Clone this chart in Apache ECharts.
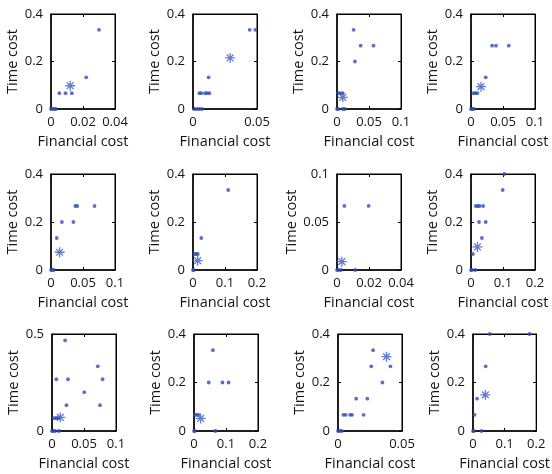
<!DOCTYPE html>
<html>
<head>
<meta charset="utf-8">
<script src="https://cdn.jsdelivr.net/npm/echarts@6/dist/echarts.min.js"></script>
<style>
html,body{margin:0;padding:0;background:#fff;}
#chart{width:552px;height:474px;}
</style>
</head>
<body>
<div id="chart"></div>
<script>
// ---- Data ----
const fin1  = [0, 0.001, 0.002, 0.003, 0.0052, 0.0091, 0.013, 0.022, 0.030];
const time1 = [0, 0, 0, 0, 0.0667, 0.0667, 0.0667, 0.1333, 0.3333];
const fin2  = [0.001, 0.003, 0.005, 0.007, 0.005, 0.0065, 0.0094, 0.011, 0.0128, 0.0122, 0.0443, 0.0487];
const time2 = [0, 0, 0, 0, 0.0667, 0.0667, 0.0667, 0.0667, 0.0667, 0.1333, 0.3333, 0.3333];
const fin3  = [0, 0.002, 0.009, 0.012, 0.002, 0.005, 0.009, 0.028, 0.037, 0.057, 0.026];
const time3 = [0, 0, 0, 0, 0.0667, 0.0667, 0.0667, 0.2, 0.2667, 0.2667, 0.3333];
const fin4  = [0, 0.002, 0.004, 0.004, 0.007, 0.010, 0.023, 0.033, 0.039, 0.059];
const time4 = [0, 0, 0, 0.0667, 0.0667, 0.0667, 0.1333, 0.2667, 0.2667, 0.2667];
const fin5  = [0, 0.002, 0.004, 0.009, 0.017, 0.035, 0.038, 0.041, 0.068];
const time5 = [0, 0, 0, 0.1333, 0.2, 0.2, 0.2667, 0.2667, 0.2667];
const fin6  = [0, 0.002, 0.005, 0.010, 0.015, 0.026, 0.110];
const time6 = [0, 0, 0.0667, 0.0667, 0.0667, 0.1333, 0.3333];
const fin7  = [0, 0.001, 0.0025, 0.0114, 0.0046, 0.0198];
const time7 = [0, 0, 0, 0, 0.0667, 0.0667];
const fin8  = [0, 0.002, 0.013, 0.006, 0.034, 0.025, 0.046, 0.015, 0.021, 0.027, 0.038, 0.099, 0.104];
const time8 = [0, 0, 0, 0.0667, 0.1333, 0.2, 0.2, 0.2667, 0.2667, 0.2667, 0.2667, 0.3333, 0.4];
const fin9  = [0, 0.002, 0.005, 0.011, 0.003, 0.006, 0.008, 0.0105, 0.0226, 0.075, 0.0505, 0.0068, 0.025, 0.079, 0.0716, 0.0205];
const time9 = [0, 0, 0, 0, 0.0667, 0.0667, 0.0667, 0.0667, 0.1333, 0.1333, 0.2, 0.2667, 0.2667, 0.2667, 0.3333, 0.4667];
const fin10  = [0, 0.003, 0.067, 0.003, 0.008, 0.014, 0.046, 0.089, 0.108, 0.059];
const time10 = [0, 0, 0, 0.0667, 0.0667, 0.0667, 0.2, 0.2, 0.2, 0.3333];
const fin11  = [0, 0.0015, 0.003, 0.0042, 0.006, 0.0095, 0.011, 0.020, 0.0142, 0.0229, 0.0347, 0.026, 0.041, 0.0274];
const time11 = [0, 0, 0, 0.0667, 0.0667, 0.0667, 0.0667, 0.0667, 0.1333, 0.1333, 0.2, 0.2667, 0.2667, 0.3333];
const fin12  = [0, 0.003, 0.027, 0.005, 0.013, 0.040, 0.053, 0.179];
const time12 = [0, 0, 0, 0.0667, 0.1333, 0.2667, 0.4, 0.4];

// Star (mean) point of each panel
const starFin  = [0.012, 0.029, 0.009, 0.0156, 0.0135, 0.0146, 0.003, 0.020, 0.013, 0.021, 0.0379, 0.039];
const starTime = [0.098, 0.215, 0.049, 0.094, 0.074, 0.039, 0.0087, 0.096, 0.070, 0.052, 0.3066, 0.149];

// Axis ranges / tick steps
const xMax  = [0.04, 0.05, 0.1, 0.1, 0.1, 0.2, 0.04, 0.2, 0.1, 0.2, 0.05, 0.2];
const xStep = [0.02, 0.05, 0.05, 0.05, 0.05, 0.1, 0.02, 0.1, 0.05, 0.1, 0.05, 0.1];
const yMax  = [0.4, 0.4, 0.4, 0.4, 0.4, 0.4, 0.1, 0.4, 0.5, 0.4, 0.4, 0.4];
const yStep = [0.2, 0.2, 0.2, 0.2, 0.2, 0.2, 0.05, 0.2, 0.5, 0.2, 0.2, 0.2];

const finAll  = [fin1, fin2, fin3, fin4, fin5, fin6, fin7, fin8, fin9, fin10, fin11, fin12];
const timeAll = [time1, time2, time3, time4, time5, time6, time7, time8, time9, time10, time11, time12];

const xLabel = 'Financial cost';
const yLabel = 'Time cost';

// ---- Layout ----
const colLeft = [[51, 193, 337, 471], [51, 193, 337, 471], [52, 194, 338, 473]];
const rowTop = [14, 174, 334];
const rowH = [95, 96, 97];
const cellW = 64;

const FONT = '"Open Sans", "Liberation Sans", sans-serif';
const TXT = '#141414';
const DOT = '#2f4db3';
const STAR = '#3a5cc8';

const grids = [], xAxes = [], yAxes = [], series = [];
for (let i = 0; i < 12; i++) {
  const r = Math.floor(i / 4), c = i % 4;
  grids.push({left: colLeft[r][c], top: rowTop[r], width: cellW, height: rowH[r],
    show: true, borderColor: '#000', borderWidth: 1, containLabel: false});
  const xb = {
    gridIndex: i, type: 'value', min: 0, max: xMax[i], interval: xStep[i],
    splitLine: {show: false},
    axisLine: {show: true, onZero: false, lineStyle: {color: '#000', width: 1.5}},
    axisTick: {show: true, inside: true, length: 3, lineStyle: {color: '#000'}},
    axisLabel: {show: true, fontFamily: FONT, fontSize: 13, color: TXT, margin: 7,
      showMinLabel: true, showMaxLabel: true, hideOverlap: false},
  };
  xAxes.push(Object.assign({}, xb, {position: 'bottom', name: xLabel, nameLocation: 'middle', nameGap: 25,
    nameTextStyle: {fontFamily: FONT, fontSize: 14.5, color: TXT}}));
  xAxes.push(Object.assign({}, xb, {position: 'top',
    axisLine: {show: true, onZero: false, lineStyle: {color: '#000', width: 1}},
    axisLabel: {show: false}}));
  const yb = {
    gridIndex: i, type: 'value', min: 0, max: yMax[i], interval: yStep[i],
    splitLine: {show: false},
    axisLine: {show: true, onZero: false, lineStyle: {color: '#000', width: 1.5}},
    axisTick: {show: true, inside: true, length: 3, lineStyle: {color: '#000'}},
    axisLabel: {show: true, fontFamily: FONT, fontSize: 13, color: TXT, margin: 8,
      showMinLabel: true, showMaxLabel: true, hideOverlap: false},
  };
  yAxes.push(Object.assign({}, yb, {position: 'left', name: yLabel, nameLocation: 'middle', nameGap: 29,
    nameTextStyle: {fontFamily: FONT, fontSize: 14.5, color: TXT}}));
  yAxes.push(Object.assign({}, yb, {position: 'right',
    axisLine: {show: true, onZero: false, lineStyle: {color: '#000', width: 1}},
    axisLabel: {show: false}}));

  const pts = finAll[i].map((v, k) => [v, timeAll[i][k]]);
  series.push({type: 'scatter', xAxisIndex: 2 * i, yAxisIndex: 2 * i, data: pts,
    symbol: 'circle', symbolSize: 3.8, clip: false, silent: true,
    itemStyle: {color: DOT}, z: 3});
  series.push({type: 'scatter', xAxisIndex: 2 * i, yAxisIndex: 2 * i,
    data: [[starFin[i], starTime[i]]],
    symbol: 'path://M0,5L10,5M5,0L5,10M1.6,1.6L8.4,8.4M1.6,8.4L8.4,1.6', symbolSize: 10,
    clip: false, silent: true,
    itemStyle: {color: 'rgba(0,0,0,0)', borderColor: STAR, borderWidth: 1.3}, z: 4});
}

const chart = echarts.init(document.getElementById('chart'), null, {renderer: 'canvas'});
chart.setOption({
  animation: false,
  backgroundColor: '#fff',
  grid: grids, xAxis: xAxes, yAxis: yAxes, series: series
});
</script>
</body>
</html>
